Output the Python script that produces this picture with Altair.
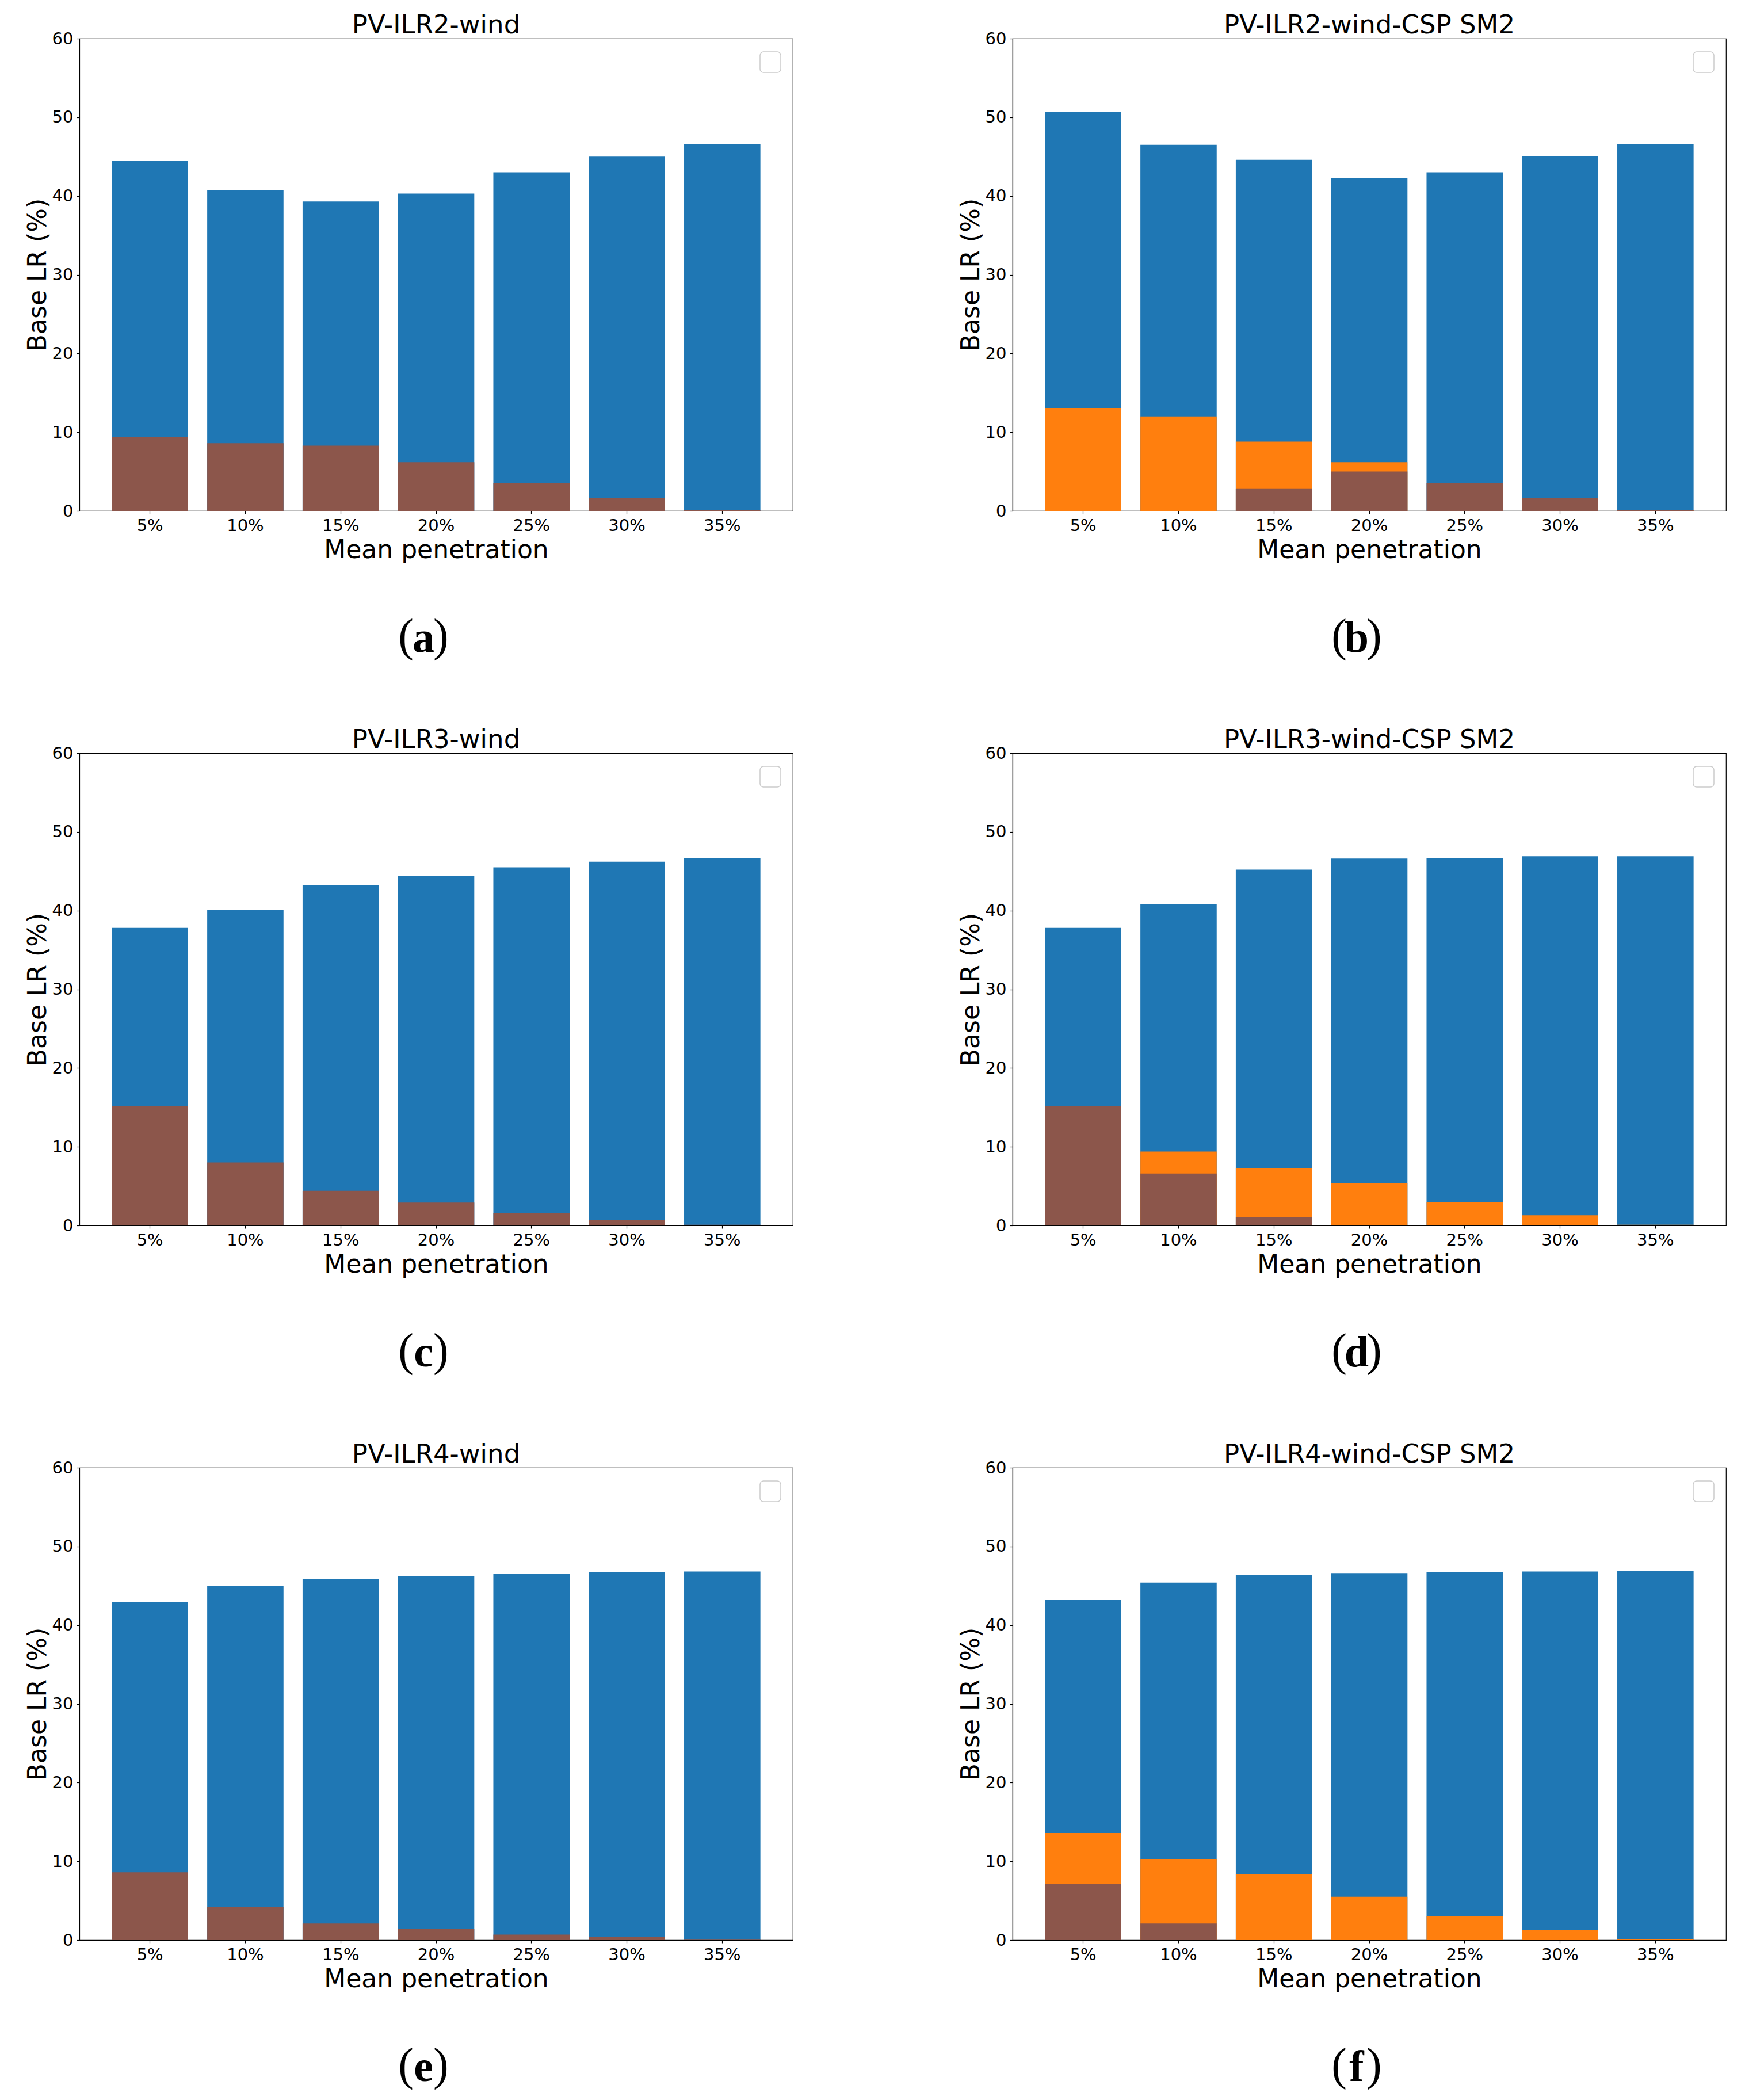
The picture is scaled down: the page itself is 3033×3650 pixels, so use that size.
import altair as alt
import pandas as pd

categories = ["5%", "10%", "15%", "20%", "25%", "30%", "35%"]
titles = ["PV-ILR2-wind", "PV-ILR2-wind-CSP SM2",
          "PV-ILR3-wind", "PV-ILR3-wind-CSP SM2",
          "PV-ILR4-wind", "PV-ILR4-wind-CSP SM2"]
captions = ["a", "b", "c", "d", "e", "f"]

blue_a = [44.5, 40.7, 39.3, 40.3, 43.0, 45.0, 46.6]
brown_a = [9.4, 8.6, 8.3, 6.2, 3.5, 1.6, 0.1]

blue_b = [50.7, 46.5, 44.6, 42.3, 43.0, 45.1, 46.6]
orange_b = [13.0, 12.0, 8.8, 6.2, 0.0, 0.0, 0.1]
brown_b = [0.0, 0.0, 2.8, 5.0, 3.5, 1.6, 0.1]

blue_c = [37.8, 40.1, 43.2, 44.4, 45.5, 46.2, 46.7]
brown_c = [15.2, 8.0, 4.4, 2.9, 1.6, 0.7, 0.1]

blue_d = [37.8, 40.8, 45.2, 46.6, 46.7, 46.9, 46.9]
orange_d = [0.0, 9.4, 7.3, 5.4, 3.0, 1.3, 0.1]
brown_d = [15.2, 6.6, 1.1, 0.0, 0.0, 0.0, 0.0]

blue_e = [42.9, 45.0, 45.9, 46.2, 46.5, 46.7, 46.8]
brown_e = [8.6, 4.2, 2.1, 1.4, 0.7, 0.4, 0.05]

blue_f = [43.2, 45.4, 46.4, 46.6, 46.7, 46.8, 46.9]
orange_f = [13.6, 10.3, 8.4, 5.5, 3.0, 1.3, 0.1]
brown_f = [7.1, 2.1, 0.0, 0.0, 0.0, 0.0, 0.0]

colors = {"blue": "#1f77b4", "orange": "#ff7f0e", "brown": "#8c564b"}

W, H = 1240, 821


def panel(title, cap, blue, orange, brown):
    rows = []
    for s, vals in (("blue", blue), ("orange", orange), ("brown", brown)):
        if vals is None:
            continue
        for c, v in zip(categories, vals):
            rows.append({"pen": c, "series": s, "value": v})
    df = pd.DataFrame(rows)

    x = alt.X("pen:N", sort=categories,
              scale=alt.Scale(paddingInner=0.2, paddingOuter=0.34),
              axis=alt.Axis(title="Mean penetration", labelAngle=0))
    y = alt.Y("value:Q",
              scale=alt.Scale(domain=[0, 60], nice=False, zero=True),
              axis=alt.Axis(title="Base LR (%)", values=[0, 10, 20, 30, 40, 50, 60], format="d"))

    layers = []
    for s in ("blue", "orange", "brown"):
        if s == "orange" and orange is None:
            continue
        layers.append(
            alt.Chart(df).transform_filter(alt.datum.series == s)
            .mark_bar(color=colors[s])
            .encode(x=x, y=y)
        )

    one = pd.DataFrame({"cap": [cap], "lp": ["("], "rp": [")"], "title": [title]})
    legend_box = alt.Chart(one).mark_rect(
        fill="white", stroke="#cccccc", strokeWidth=1.5, cornerRadius=6
    ).encode(x=alt.value(W - 57), x2=alt.value(W - 21), y=alt.value(23), y2=alt.value(59))

    title_txt = alt.Chart(one).mark_text(
        font="DejaVu Sans", fontSize=45, align="center", baseline="alphabetic", color="black"
    ).encode(x=alt.value(W / 2), y=alt.value(-9), text="title:N")

    cap_a = alt.Chart(one).mark_text(
        font="Liberation Serif", fontSize=76, fontWeight="bold", align="center",
        baseline="alphabetic", color="black"
    ).encode(x=alt.value(598), y=alt.value(H + 245), text="cap:N")
    cap_l = alt.Chart(one).mark_text(
        font="Liberation Serif", fontSize=80, align="right",
        baseline="alphabetic", color="black"
    ).encode(x=alt.value(581), y=alt.value(H + 243), text="lp:N")
    cap_r = alt.Chart(one).mark_text(
        font="Liberation Serif", fontSize=80, align="left",
        baseline="alphabetic", color="black"
    ).encode(x=alt.value(615), y=alt.value(H + 243), text="rp:N")

    return alt.layer(*layers, legend_box, title_txt, cap_l, cap_a, cap_r).properties(
        width=W, height=H,
    )


panels = [
    panel(titles[0], captions[0], blue_a, None, brown_a),
    panel(titles[1], captions[1], blue_b, orange_b, brown_b),
    panel(titles[2], captions[2], blue_c, None, brown_c),
    panel(titles[3], captions[3], blue_d, orange_d, brown_d),
    panel(titles[4], captions[4], blue_e, None, brown_e),
    panel(titles[5], captions[5], blue_f, orange_f, brown_f),
]

chart = alt.concat(*panels, columns=2, spacing={"row": 421, "column": 382}, bounds="flush").properties(
    padding={"left": 35, "top": 13, "right": 5, "bottom": 5},
    background="white",
).configure_axis(
    domainColor="black", domainWidth=1.2, tickColor="black", tickWidth=1.2, tickSize=5,
    labelFont="DejaVu Sans", labelFontSize=29, labelColor="black", labelPadding=6,
    titleFont="DejaVu Sans", titleFontSize=44, titleFontWeight="normal", titleColor="black",
    grid=False,
).configure_axisX(titlePadding=6).configure_axisY(titlePadding=2).configure_view(
    stroke="black", strokeWidth=1.2
)

chart.save("out.html", embed_options={"renderer": "svg", "actions": False})
